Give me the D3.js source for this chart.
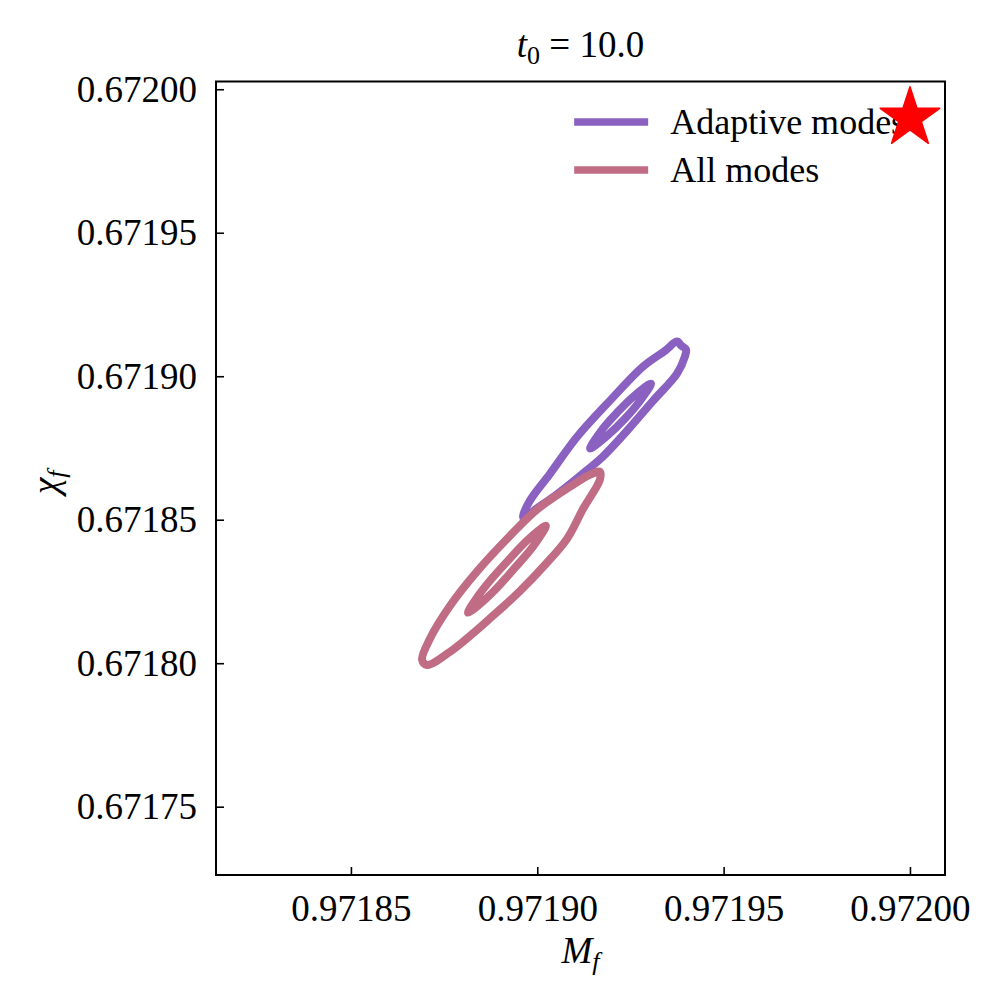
<!DOCTYPE html>
<html lang="en">
<head>
<meta charset="utf-8">
<title>t0 = 10.0 contours</title>
<script src="https://cdnjs.cloudflare.com/ajax/libs/d3/7.8.5/d3.min.js"></script>
<style>
body { margin: 0; background: #fff; }
text { font-family: "Liberation Serif", "DejaVu Serif", serif; fill: #000; }
.axis path, .axis line { stroke: #000; }
.contour { fill: none; stroke-width: 8; stroke-linejoin: round; stroke-linecap: round; }
</style>
</head>
<body>
<div id="chart"></div>
<script>

// tick values
var xTicks = [0.97185, 0.97190, 0.97195, 0.97200];
var yTicks = [0.67175, 0.67180, 0.67185, 0.67190, 0.67195, 0.67200];

// reference (true) point
var truth = [0.97200, 0.67199];

// contour levels, [M_f, chi_f]
var adaptiveOuter = [
  [0.9718962, 0.6718510], [0.9718980, 0.6718566], [0.9719034, 0.6718660],
  [0.9719107, 0.6718789], [0.9719195, 0.6718915], [0.9719284, 0.6719034],
  [0.9719343, 0.6719089], [0.9719375, 0.6719121], [0.9719386, 0.6719107],
  [0.9719399, 0.6719093], [0.9719396, 0.6719068], [0.9719375, 0.6719009],
  [0.9719311, 0.6718915], [0.9719241, 0.6718810], [0.9719176, 0.6718720],
  [0.9719115, 0.6718653], [0.9719048, 0.6718584], [0.9718994, 0.6718535],
  [0.9718967, 0.6718503]
];
var adaptiveInner = [
  [0.9719305, 0.6718974], [0.9719256, 0.6718927], [0.9719214, 0.6718873],
  [0.9719174, 0.6718814], [0.9719142, 0.6718748], [0.9719190, 0.6718795],
  [0.9719233, 0.6718849], [0.9719272, 0.6718908]
];
var allOuter = [
  [0.9719168, 0.6718667], [0.9719142, 0.6718657], [0.9719088, 0.6718615],
  [0.9718999, 0.6718535], [0.9718927, 0.6718444], [0.9718838, 0.6718319],
  [0.9718766, 0.6718200], [0.9718712, 0.6718085], [0.9718691, 0.6718012],
  [0.9718704, 0.6717994], [0.9718766, 0.6718040], [0.9718881, 0.6718165],
  [0.9718954, 0.6718252], [0.9719021, 0.6718343], [0.9719080, 0.6718434],
  [0.9719123, 0.6718538], [0.9719168, 0.6718639]
];
var allInner = [
  [0.9719023, 0.6718479], [0.9718973, 0.6718428], [0.9718919, 0.6718354],
  [0.9718867, 0.6718278], [0.9718833, 0.6718219], [0.9718814, 0.6718176],
  [0.9718845, 0.6718205], [0.9718887, 0.6718256], [0.9718939, 0.6718331],
  [0.9718990, 0.6718409]
];

var series = [
  {name: "Adaptive modes", color: "#8a60c0", levels: [adaptiveOuter, adaptiveInner]},
  {name: "All modes", color: "#c06c85", levels: [allOuter, allInner]}
];

var W = 1003, H = 1000;
var margin = {top: 81.5, right: 58, bottom: 125, left: 216},
    width = W - margin.left - margin.right,
    height = H - margin.top - margin.bottom;

var svg = d3.select("#chart").append("svg")
    .attr("width", W)
    .attr("height", H);

var root = svg.append("g")
    .attr("transform", "translate(" + margin.left + "," + margin.top + ")");

var x = d3.scaleLinear().domain([0.9718138, 0.9720094]).range([0, width]);
var y = d3.scaleLinear().domain([0.6717262, 0.6720027]).range([height, 0]);

var fmt = d3.format(".5f");

// axes, ticks pointing inward
var xAxis = root.append("g")
    .attr("class", "axis")
    .attr("transform", "translate(0," + height + ")")
    .call(d3.axisBottom(x).tickValues(xTicks).tickFormat(fmt).tickSizeInner(-8).tickSizeOuter(0).tickPadding(17));
var yAxis = root.append("g")
    .attr("class", "axis")
    .call(d3.axisLeft(y).tickValues(yTicks).tickFormat(fmt).tickSizeInner(-8).tickSizeOuter(0).tickPadding(19));

root.selectAll(".axis line").attr("stroke-width", 1.6);
root.selectAll(".axis path").remove();
root.selectAll(".axis text")
    .style("font-family", '"Liberation Serif", serif')
    .style("font-size", "37px");
xAxis.selectAll("text").attr("dy", "0.78em");

// frame
root.append("rect")
    .attr("width", width)
    .attr("height", height)
    .attr("fill", "none")
    .attr("stroke", "#000")
    .attr("stroke-width", 2);

// contours
var line = d3.line()
    .x(function(d) { return x(d[0]); })
    .y(function(d) { return y(d[1]); })
    .curve(d3.curveCatmullRomClosed.alpha(0.5));

series.forEach(function(s) {
    root.append("g").selectAll("path")
        .data(s.levels)
        .enter().append("path")
            .attr("class", "contour")
            .attr("stroke", s.color)
            .attr("d", line);
});

// legend
var legend = root.append("g")
    .attr("transform", "translate(" + x(0.9719099) + "," + y(0.6719886) + ")");
var entry = legend.selectAll("g")
    .data(series)
    .enter().append("g")
        .attr("transform", function(d, i) { return "translate(0," + (i * 48) + ")"; });
entry.append("line")
    .attr("x1", 0).attr("x2", 74)
    .attr("stroke", function(d) { return d.color; })
    .attr("stroke-width", 7.5);
entry.append("text")
    .attr("x", 96)
    .attr("dy", "0.33em")
    .style("font-size", "36px")
    .text(function(d) { return d.name; });

// true value star
root.append("path")
    .attr("d", d3.symbol().type(d3.symbolStar).size(1100))
    .attr("transform", "translate(" + x(truth[0]) + "," + y(truth[1]) + ")")
    .attr("fill", "#ff0000")
    .attr("stroke", "#ff0000")
    .attr("stroke-width", 1.5)
    .attr("stroke-linejoin", "round");

// title and labels
var title = svg.append("text")
    .attr("x", margin.left + width / 2)
    .attr("y", 57)
    .attr("text-anchor", "middle")
    .style("font-size", "37px");
title.append("tspan").style("font-style", "italic").text("t");
title.append("tspan").attr("dy", 7).style("font-size", "26px").text("0");
title.append("tspan").attr("dy", -7).text(" = 10.0");

var xl = svg.append("text")
    .attr("x", margin.left + width / 2)
    .attr("y", 963)
    .attr("text-anchor", "middle")
    .style("font-size", "37px");
xl.append("tspan").style("font-style", "italic").text("M");
xl.append("tspan").attr("dy", 7).style("font-size", "26px").style("font-style", "italic").text("f");

var yl = svg.append("text")
    .attr("transform", "translate(58," + (margin.top + height / 2 + 4) + ") rotate(-90)")
    .attr("text-anchor", "middle")
    .style("font-size", "37px");
yl.append("tspan").style("font-style", "italic").text("χ");
yl.append("tspan").attr("dy", 7).style("font-size", "26px").style("font-style", "italic").text("f");

</script>
</body>
</html>
